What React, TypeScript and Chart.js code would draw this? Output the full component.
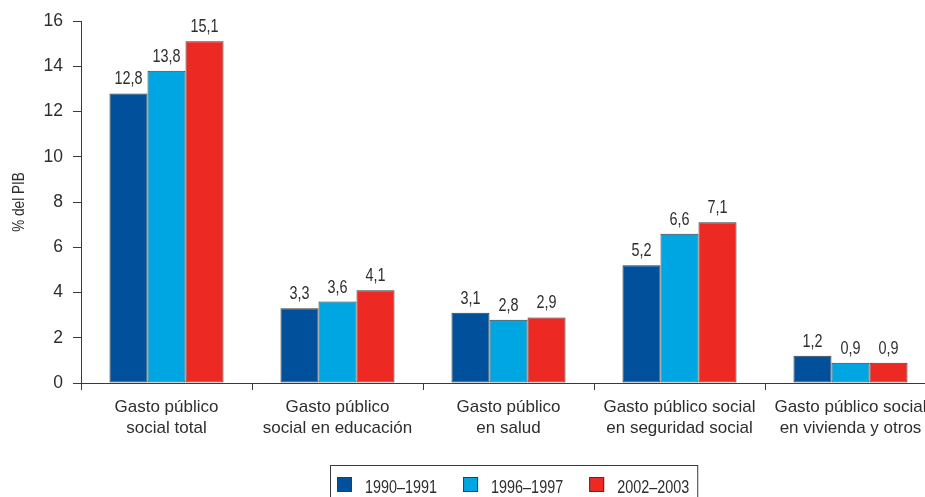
import React, { useEffect, useRef } from "react";
import { Chart, registerables } from "chart.js";

Chart.register(...registerables);

// ---- data ----
const categories: string[][] = [
  ["Gasto público", "social total"],
  ["Gasto público", "social en educación"],
  ["Gasto público", "en salud"],
  ["Gasto público social", "en seguridad social"],
  ["Gasto público social", "en vivienda y otros"],
];
const seriesLabels = ["1990–1991", "1996–1997", "2002–2003"];
const values1990 = [12.8, 3.3, 3.1, 5.2, 1.2];
const values1996 = [13.8, 3.6, 2.8, 6.6, 0.9];
const values2002 = [15.1, 4.1, 2.9, 7.1, 0.9];
const yMin = 0;
const yMax = 16;
const yStep = 2;
const yAxisTitle = "% del PIB";

// ---- style ----
const COLORS = ["#00509b", "#00a6e2", "#ed2924"];
const TEXT = "#2e2e2e";
const LINE = "#3a3a3a";
// "Arial Narrow" is not installed: text in that family falls back to
// Liberation Sans and is condensed horizontally to emulate the narrow face.
const NARROW = "'Arial Narrow', 'Liberation Sans', Arial, sans-serif";
const REGULAR = "'Liberation Sans', Arial, sans-serif";
const NARROW_FACTOR = 0.8;
const CANVAS_W = 960;
const CANVAS_H = 520;

const fmt = (v: number) => v.toFixed(1).replace(".", ",");

function condenseNarrowText(ctx: any) {
  if (ctx.__narrowPatched) return;
  ctx.__narrowPatched = true;
  const origFill = ctx.fillText.bind(ctx);
  const origMeasure = ctx.measureText.bind(ctx);
  const isNarrow = () => String(ctx.font).includes("Arial Narrow");
  ctx.fillText = (text: string, x: number, y: number, maxWidth?: number) => {
    if (!isNarrow()) {
      if (maxWidth === undefined) origFill(text, x, y);
      else origFill(text, x, y, maxWidth);
      return;
    }
    ctx.save();
    ctx.translate(x, y);
    ctx.scale(NARROW_FACTOR, 1);
    origFill(text, 0, 0);
    ctx.restore();
  };
  ctx.measureText = (text: string) => {
    const m = origMeasure(text);
    if (!isNarrow()) return m;
    return {
      width: m.width * NARROW_FACTOR,
      actualBoundingBoxLeft: m.actualBoundingBoxLeft * NARROW_FACTOR,
      actualBoundingBoxRight: m.actualBoundingBoxRight * NARROW_FACTOR,
      actualBoundingBoxAscent: m.actualBoundingBoxAscent,
      actualBoundingBoxDescent: m.actualBoundingBoxDescent,
      fontBoundingBoxAscent: m.fontBoundingBoxAscent,
      fontBoundingBoxDescent: m.fontBoundingBoxDescent,
    };
  };
}

const valueLabels = {
  id: "valueLabels",
  afterDatasetsDraw(chart: any) {
    const ctx = chart.ctx;
    ctx.save();
    ctx.fillStyle = TEXT;
    ctx.font = `18px ${NARROW}`;
    ctx.textAlign = "center";
    ctx.textBaseline = "alphabetic";
    chart.data.datasets.forEach((ds: any, i: number) => {
      const meta = chart.getDatasetMeta(i);
      meta.data.forEach((bar: any, j: number) => {
        ctx.fillText(fmt(ds.data[j]), bar.x, bar.y - 9);
      });
    });
    ctx.restore();
  },
};

const yTitle = {
  id: "yTitle",
  afterDraw(chart: any) {
    const ctx = chart.ctx;
    const { top, bottom } = chart.chartArea;
    ctx.save();
    ctx.translate(19, (top + bottom) / 2);
    ctx.rotate(-Math.PI / 2);
    ctx.font = `17px ${NARROW}`;
    ctx.fillStyle = TEXT;
    ctx.textAlign = "center";
    ctx.textBaseline = "middle";
    ctx.fillText(yAxisTitle, 0, 0);
    ctx.restore();
  },
};

const boxedLegend = {
  id: "boxedLegend",
  afterDraw(chart: any) {
    const ctx = chart.ctx;
    ctx.save();
    ctx.font = `18px ${NARROW}`;
    ctx.textBaseline = "alphabetic";
    ctx.textAlign = "left";
    const left = 330;
    const top = 465;
    let x = left + 7;
    const sw = 15;
    let right = x;
    chart.data.datasets.forEach((ds: any) => {
      ctx.fillStyle = ds.backgroundColor;
      ctx.fillRect(x, top + 12, sw, sw);
      ctx.strokeStyle = LINE;
      ctx.lineWidth = 1;
      ctx.strokeRect(x + 0.5, top + 12.5, sw - 1, sw - 1);
      ctx.fillStyle = TEXT;
      const tx = x + sw + 13;
      ctx.fillText(ds.label, tx, top + 28);
      const w = ctx.measureText(ds.label).width;
      right = tx + w;
      x = tx + w + 26;
    });
    ctx.strokeStyle = LINE;
    ctx.lineWidth = 1;
    ctx.strokeRect(left + 0.5, top + 0.5, right + 8 - left, 60);
    ctx.restore();
  },
};

export default function App() {
  const ref = useRef<HTMLCanvasElement | null>(null);

  useEffect(() => {
    if (!ref.current) return;
    const ctx = ref.current.getContext("2d");
    if (!ctx) return;
    condenseNarrowText(ctx);
    const chart = new Chart(ctx, {
      type: "bar",
      data: {
        labels: categories,
        datasets: [
          { label: seriesLabels[0], data: values1990, backgroundColor: COLORS[0] },
          { label: seriesLabels[1], data: values1996, backgroundColor: COLORS[1] },
          { label: seriesLabels[2], data: values2002, backgroundColor: COLORS[2] },
        ].map((d) => ({
          ...d,
          borderColor: LINE,
          borderWidth: 1,
          borderSkipped: false,
          categoryPercentage: 0.667,
          barPercentage: 1.0,
        })),
      },
      options: {
        responsive: false,
        animation: false,
        layout: { padding: { top: 21, right: CANVAS_W - 936, left: 0, bottom: 0 } },
        plugins: {
          legend: { display: false },
          tooltip: { enabled: false },
        },
        scales: {
          x: {
            afterFit: (s: any) => {
              s.height = CANVAS_H - 383;
            },
            border: { display: true, color: LINE, width: 1 },
            grid: {
              display: true,
              drawOnChartArea: false,
              drawTicks: true,
              tickLength: 7,
              color: LINE,
              offset: true,
            },
            ticks: {
              color: TEXT,
              padding: 7,
              maxRotation: 0,
              autoSkip: false,
              font: { family: REGULAR, size: 17, lineHeight: 21 / 17 },
            },
          },
          y: {
            min: yMin,
            max: yMax,
            afterFit: (s: any) => {
              s.width = 81;
            },
            border: { display: true, color: LINE, width: 1 },
            grid: {
              display: true,
              drawOnChartArea: false,
              drawTicks: true,
              tickLength: 8,
              color: LINE,
            },
            ticks: {
              stepSize: yStep,
              color: TEXT,
              padding: 10,
              font: { family: REGULAR, size: 17.5 },
            },
            title: { display: false, text: yAxisTitle },
          },
        },
      },
      plugins: [valueLabels, yTitle, boxedLegend],
    });
    return () => chart.destroy();
  }, []);

  return (
    <div
      style={{
        position: "fixed",
        left: 0,
        top: 0,
        width: 925,
        height: 497,
        overflow: "hidden",
        background: "#fff",
      }}
    >
      <canvas
        ref={ref}
        width={CANVAS_W}
        height={CANVAS_H}
        style={{ width: CANVAS_W, height: CANVAS_H, display: "block" }}
      />
    </div>
  );
}
